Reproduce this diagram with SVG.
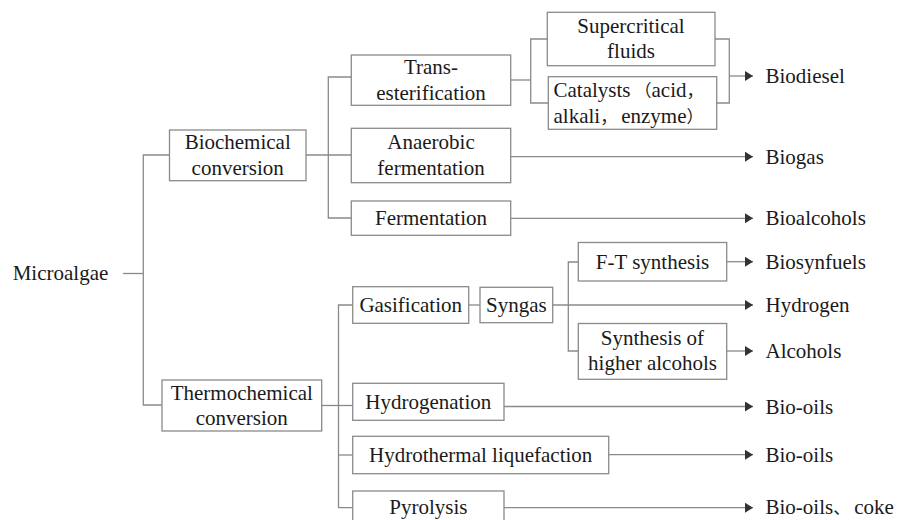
<svg xmlns="http://www.w3.org/2000/svg" width="899" height="520" viewBox="0 0 899 520">
<defs>
<style>
.box{fill:#fff;stroke:#8a8a8a;stroke-width:1.3}
.ln{fill:none;stroke:#8a8a8a;stroke-width:1.3}
text{font-family:"Liberation Serif","DejaVu Serif",serif;font-size:21px;fill:#1a1a1a}
.cj{font-family:"Noto Sans CJK SC","Noto Sans CJK JP",sans-serif;font-size:17px}
.c{text-anchor:middle}
</style>
<marker id="ah" markerUnits="userSpaceOnUse" markerWidth="8" markerHeight="10" refX="8" refY="5" orient="auto">
<path d="M0,0 L8,5 L0,10 Z" fill="#333"/>
</marker>
</defs>
<rect width="899" height="520" fill="#fff"/>
<g id="connectors">
<path class="ln" d="M123,273.5 H143.3"/>
<path class="ln" d="M169.5,155 H143.3 V405 H162"/>
<path class="ln" d="M306,155 H351.3"/>
<path class="ln" d="M351.3,77 H328.3 V218 H351.3"/>
<path class="ln" d="M510.7,80 H530.7"/>
<path class="ln" d="M547.3,39 H530.7 V103 H548.3"/>
<path class="ln" d="M715,39 H729.3 V103 H716.7"/>
<path class="ln" d="M729.3,76 H753" marker-end="url(#ah)"/>
<path class="ln" d="M510.7,156.7 H753" marker-end="url(#ah)"/>
<path class="ln" d="M510.7,218.3 H753" marker-end="url(#ah)"/>
<path class="ln" d="M321.7,405.5 H352.7"/>
<path class="ln" d="M352.7,305 H338.5 V507.7 H352.7"/>
<path class="ln" d="M338.5,455 H352.7"/>
<path class="ln" d="M468.7,305 H480"/>
<path class="ln" d="M552.7,305 H753" marker-end="url(#ah)"/>
<path class="ln" d="M578.3,262 H568.3 V351 H578.3"/>
<path class="ln" d="M726.7,261.7 H753" marker-end="url(#ah)"/>
<path class="ln" d="M726.7,351 H753" marker-end="url(#ah)"/>
<path class="ln" d="M504,406.5 H753" marker-end="url(#ah)"/>
<path class="ln" d="M608.7,454.7 H753" marker-end="url(#ah)"/>
<path class="ln" d="M504,507.7 H753" marker-end="url(#ah)"/>
</g>
<g id="microalgae"><text x="12.7" y="280">Microalgae</text></g>
<g id="biochemical"><rect class="box" x="169.5" y="130" width="136.5" height="50.7"/><text class="c" x="237.7" y="149">Biochemical</text><text class="c" x="237.7" y="175">conversion</text></g>
<g id="thermochemical"><rect class="box" x="162" y="380" width="159.7" height="51"/><text class="c" x="241.8" y="400">Thermochemical</text><text class="c" x="241.8" y="424.5">conversion</text></g>
<g id="transesterification"><rect class="box" x="351.3" y="55" width="159.4" height="50.3"/><text class="c" x="431" y="74">Trans-</text><text class="c" x="431" y="99.5">esterification</text></g>
<g id="anaerobic"><rect class="box" x="351.3" y="128.3" width="159.4" height="54.4"/><text class="c" x="431" y="149.3">Anaerobic</text><text class="c" x="431" y="175">fermentation</text></g>
<g id="fermentation"><rect class="box" x="351.3" y="201" width="159.4" height="34.3"/><text class="c" x="431" y="225">Fermentation</text></g>
<g id="supercritical"><rect class="box" x="547.3" y="12.3" width="167.7" height="53.4"/><text class="c" x="631" y="33.3">Supercritical</text><text class="c" x="631" y="58.3">fluids</text></g>
<g id="catalysts"><rect class="box" x="548.3" y="76.7" width="168.4" height="52.6"/><text x="553.5" y="97">Catalysts<tspan class="cj" dx="4">（</tspan>acid<tspan class="cj">，</tspan></text><text x="553.5" y="123">alkali<tspan class="cj">，</tspan><tspan dx="4">enzyme</tspan><tspan class="cj">）</tspan></text></g>
<g id="gasification"><rect class="box" x="352.7" y="286.7" width="116" height="36.6"/><text class="c" x="410.7" y="311.7">Gasification</text></g>
<g id="syngas"><rect class="box" x="480" y="287.3" width="72.7" height="35.4"/><text class="c" x="516.3" y="311.7">Syngas</text></g>
<g id="ft-synthesis"><rect class="box" x="578.3" y="242.5" width="148.4" height="38.5"/><text class="c" x="652.5" y="269">F-T synthesis</text></g>
<g id="higher-alcohols"><rect class="box" x="578.3" y="323.5" width="148.4" height="55.8"/><text class="c" x="652.5" y="345">Synthesis of</text><text class="c" x="652.5" y="370">higher alcohols</text></g>
<g id="hydrogenation"><rect class="box" x="352.7" y="383.3" width="151.3" height="37"/><text class="c" x="428.3" y="409">Hydrogenation</text></g>
<g id="hydrothermal"><rect class="box" x="352.7" y="436.3" width="256" height="37.4"/><text class="c" x="480.7" y="462">Hydrothermal liquefaction</text></g>
<g id="pyrolysis"><rect class="box" x="352.7" y="491" width="151.3" height="40"/><text class="c" x="428.3" y="513.5">Pyrolysis</text></g>
<g id="out-biodiesel"><text x="765.5" y="83">Biodiesel</text></g>
<g id="out-biogas"><text x="765.5" y="163.5">Biogas</text></g>
<g id="out-bioalcohols"><text x="765.5" y="224.5">Bioalcohols</text></g>
<g id="out-biosynfuels"><text x="765.5" y="268.5">Biosynfuels</text></g>
<g id="out-hydrogen"><text x="765.5" y="311.7">Hydrogen</text></g>
<g id="out-alcohols"><text x="765.5" y="358">Alcohols</text></g>
<g id="out-biooils1"><text x="765.5" y="413.5">Bio-oils</text></g>
<g id="out-biooils2"><text x="765.5" y="461.5">Bio-oils</text></g>
<g id="out-biooils-coke"><text x="765.5" y="514">Bio-oils<tspan class="cj">、</tspan><tspan dx="4">coke</tspan></text></g>
</svg>
